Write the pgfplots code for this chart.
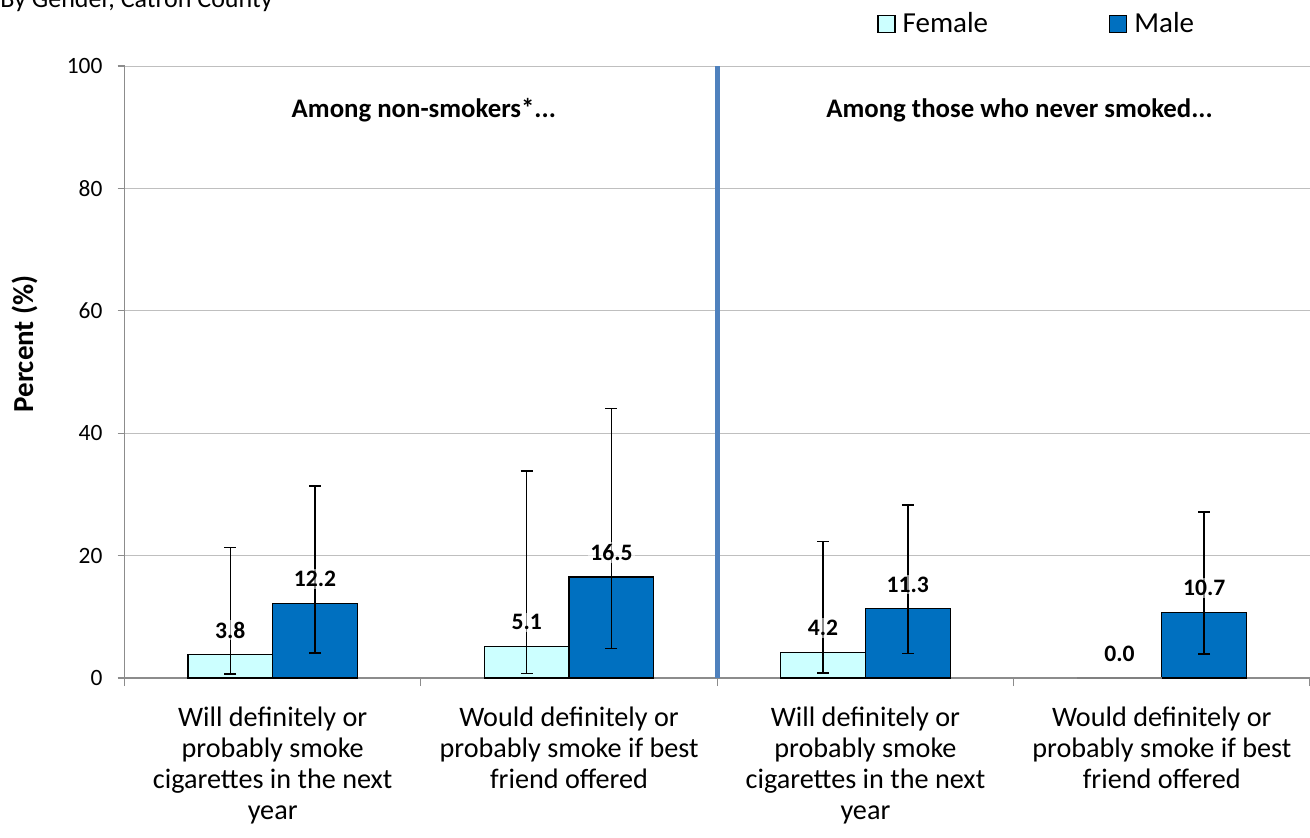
\documentclass[border=0pt]{standalone}
\usepackage{pgfplots}
\pgfplotsset{compat=1.18}
\usepackage{fontspec}
\setmainfont{Carlito}
\definecolor{fem}{HTML}{CCFFFF}
\definecolor{mal}{HTML}{0070C0}
\definecolor{sepc}{HTML}{4F81BD}
\definecolor{gridc}{HTML}{BFBFBF}
\definecolor{axc}{HTML}{8C8C8C}
\begin{document}
\begin{tikzpicture}[x=1pt,y=1pt]
\useasboundingbox (0,0) rectangle (655,-418.5);
\node[anchor=base west, font=\fontsize{13}{15.6}\selectfont, inner sep=0pt] at (0,-3.5) {By Gender, Catron County};
\begin{axis}[
  at={(62.25pt,-339pt)}, anchor=south west,
  scale only axis, width=592.75pt, height=306pt,
  xmin=-0.5, xmax=3.5, ymin=0, ymax=100,
  /pgf/number format/assume math mode=true,
  ybar,
  legend image code/.code={\draw[#1, draw=black, line width=0.6pt] (0pt,-4.25pt) rectangle (8.5pt,4.25pt);},
  ytick={0,20,...,100},
  ymajorgrids, grid style={gridc, line width=0.5pt},
  axis x line*=bottom, axis y line*=left,
  axis line style={axc, line width=0.6pt},
  tick align=outside,
  xtick={0,1,2,3},
  xticklabels={{Will definitely or\\probably smoke\\cigarettes in the next\\year},
               {Would definitely or\\probably smoke if best\\friend offered},
               {Will definitely or\\probably smoke\\cigarettes in the next\\year},
               {Would definitely or\\probably smoke if best\\friend offered}},
  major x tick style={draw=none},
  minor xtick={-0.5,0.5,1.5,2.5,3.5},
  minor tick length=4pt,
  minor x tick style={axc, line width=0.6pt},
  major y tick style={axc, line width=0.6pt},
  major tick length=3.5pt,
  x tick label style={align=center, font=\fontsize{14.1}{15.5}\selectfont, yshift=-7.5pt},
  y tick label style={font=\fontsize{11.7}{14}\selectfont, xshift=-4pt},
  ylabel={Percent (\%)},
  ylabel style={at={(axis description cs:-0.0844,0.546)}, anchor=center, font=\bfseries\fontsize{14.5}{17}\selectfont},
  legend style={draw=none, fill=none, at={(axis description cs:0.6348,1.0686)}, anchor=west,
    legend columns=2, /tikz/every even column/.append style={column sep=57pt},
    font=\fontsize{14.5}{17}\selectfont, inner sep=0pt, legend cell align=left,
    nodes={inner xsep=3.5pt}},
  nodes near coords={\pgfmathprintnumber[fixed,fixed zerofill,precision=1]{\pgfplotspointmeta}},
  every node near coord/.append style={anchor=center, yshift=12.25pt, font=\bfseries\fontsize{11.8}{14}\selectfont,
    text=black, fill=white, fill opacity=0.55, text opacity=1, inner sep=1pt},
  error bars/y dir=both, error bars/y explicit,
  error bars/error bar style={black, line width=0.75pt},
  error bars/error mark options={rotate=90, mark size=3pt, black, line width=0.75pt},
]
\addplot[sepc, line width=2.6pt, sharp plot, forget plot, nodes near coords={}, error bars/y dir=none] coordinates {(1.5,0) (1.5,100)};
\addplot[bar width=42.35pt, bar shift=-21.18pt, fill=fem, draw=black, line width=0.6pt]
  coordinates {(0,3.8) += (0,17.5) -= (0,3.15)
               (1,5.1) += (0,28.7) -= (0,4.4)
               (2,4.2) += (0,18.1) -= (0,3.4)};
\addplot[bar width=42.35pt, bar shift=21.18pt, fill=mal, draw=black, line width=0.6pt]
  coordinates {(0,12.2) += (0,19.2) -= (0,8.1)
               (1,16.5) += (0,27.5) -= (0,11.65)
               (2,11.3) += (0,17.0) -= (0,7.3)
               (3,10.7) += (0,16.4) -= (0,6.8)};
\addplot[bar width=42.35pt, bar shift=-21.18pt, fill=fem, draw=gray, line width=0.6pt, forget plot, error bars/y dir=none]
  coordinates {(3,0)};
\legend{Female, Male}
\node[font=\bfseries\fontsize{13.4}{15.6}\selectfont] at (axis cs:0.51,92.8) {Among non-smokers*...};
\node[font=\bfseries\fontsize{13.4}{15.6}\selectfont] at (axis cs:2.52,92.8) {Among those who never smoked...};
\end{axis}
\end{tikzpicture}
\end{document}
